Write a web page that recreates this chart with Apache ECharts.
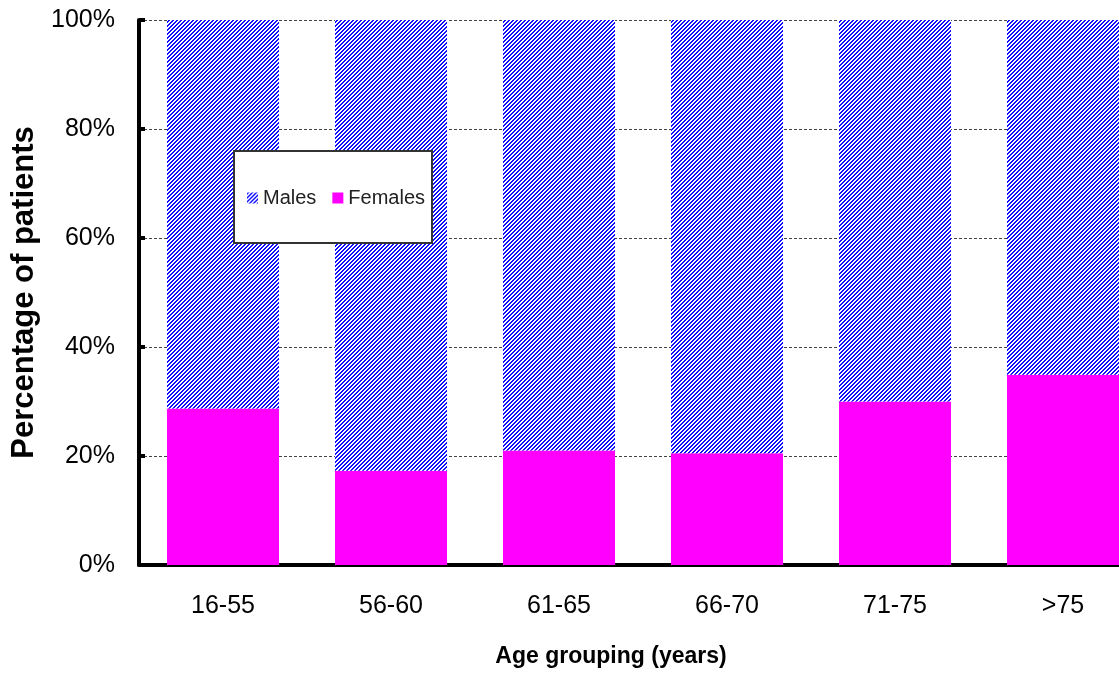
<!DOCTYPE html>
<html>
<head>
<meta charset="utf-8">
<style>
  html, body { margin: 0; padding: 0; background: #fff; overflow: hidden; }
  #box { width: 1119px; height: 678px; }
</style>
<script src="https://cdn.jsdelivr.net/npm/echarts@6/dist/echarts.min.js"></script>
</head>
<body>
<div id="box"></div>
<script>
// data
const categories = ["16-55", "56-60", "61-65", "66-70", "71-75", ">75"];
const females = [28.7, 17.3, 21.0, 20.5, 30.0, 34.9];
const males = [71.3, 82.7, 79.0, 79.5, 70.0, 65.1];
const yTicks = [0, 20, 40, 60, 80, 100];

// hatch "/" pattern for males
function makeHatch() {
  let c = document.createElement("canvas");
  c.width = 4;
  c.height = 4;
  let ctx = c.getContext("2d"),
    img = ctx.createImageData(4, 4);
  for (let y = 0; y < 4; y++) {
    for (let x = 0; x < 4; x++) {
      let i = (y * 4 + x) * 4,
        blue = (x + y) % 4 < 2;
      img.data[i] = blue ? 16 : 255;
      img.data[i + 1] = blue ? 16 : 255;
      img.data[i + 2] = 255;
      img.data[i + 3] = 255;
    }
  }
  ctx.putImageData(img, 0, 0);
  return c;
}

let chart = echarts.init(document.getElementById("box"), null, { renderer: "canvas" });
let font = "'Liberation Sans', Arial, sans-serif";

let option = {
  animation: false,
  backgroundColor: "#fff",
  // plot runs past the right edge of the picture
  grid: { left: 139, top: 20, right: -28, bottom: 113, containLabel: false, outerBoundsMode: "none" },
  legend: {
    left: 247,
    top: 188,
    padding: 0,
    itemWidth: 11,
    itemHeight: 11,
    itemGap: 16,
    icon: "rect",
    z: 10,
    textStyle: { fontFamily: font, fontSize: 20, color: "#222" },
    data: ["Males", "Females"]
  },
  graphic: [
    {
      type: "rect",
      z: 5,
      shape: { x: 234, y: 151, width: 198, height: 92 },
      style: { fill: "#fff", stroke: "#333", lineWidth: 2 }
    }
  ],
  xAxis: {
    type: "category",
    data: categories,
    name: "Age grouping (years)",
    nameLocation: "middle",
    nameGap: 80,
    nameTextStyle: { fontFamily: font, fontSize: 23, fontWeight: "bold", color: "#000", padding: [0, 64, 0, 0] },
    axisLine: { lineStyle: { color: "#000", width: 4 } },
    axisTick: { show: false },
    axisLabel: { fontFamily: font, fontSize: 25, color: "#000", margin: 29 }
  },
  yAxis: {
    type: "value",
    min: 0,
    max: 100,
    interval: 20,
    name: "Percentage of patients",
    nameLocation: "middle",
    nameGap: 98,
    nameTextStyle: { fontFamily: font, fontSize: 31, fontWeight: "bold", color: "#000" },
    axisLine: { show: true, lineStyle: { color: "#000", width: 4 } },
    axisTick: { show: true, inside: true, length: 6, lineStyle: { color: "#000", width: 4 } },
    axisLabel: {
      fontFamily: font,
      fontSize: 25,
      color: "#000",
      margin: 24,
      formatter: v => (yTicks.indexOf(v) >= 0 ? v + "%" : "")
    },
    splitLine: { show: true, lineStyle: { color: "#444", width: 1, type: [3, 2] } }
  },
  series: [
    {
      name: "Females",
      type: "bar",
      stack: "all",
      data: females,
      barCategoryGap: "33.3%",
      itemStyle: { color: "#ff00ff" }
    },
    {
      name: "Males",
      type: "bar",
      stack: "all",
      data: males,
      itemStyle: { color: { image: makeHatch(), repeat: "repeat" } }
    }
  ]
};

chart.setOption(option);
</script>
</body>
</html>
